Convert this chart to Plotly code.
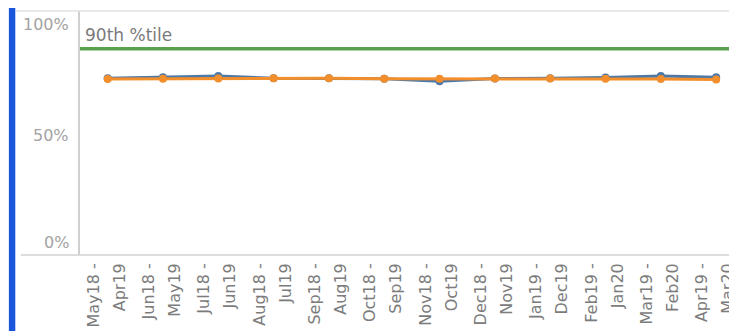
import plotly.graph_objects as go

categories_start = ["May18 -", "Jun18 -", "Jul18 -", "Aug18 -", "Sep18 -", "Oct18 -",
                    "Nov18 -", "Dec18 -", "Jan19 -", "Feb19 -", "Mar19 -", "Apr19 -"]
categories_end = ["Apr19", "May19", "Jun19", "Jul19", "Aug19", "Sep19",
                  "Oct19", "Nov19", "Dec19", "Jan20", "Feb20", "Mar20"]
blue_values = [0.724, 0.728, 0.734, 0.724, 0.724, 0.722, 0.712, 0.723, 0.724, 0.727, 0.734, 0.728]
orange_values = [0.721, 0.722, 0.723, 0.724, 0.724, 0.722, 0.722, 0.723, 0.723, 0.722, 0.721, 0.719]
percentile_90 = 0.845
percentile_label = "90th %tile"
y_ticks = [0, 0.5, 1.0]
y_tick_labels = ["0%", "50%", "100%"]

# page has an 8px body margin, so the figure is offset by 8px
OFF = 8
W, H = 737 - OFF, 331 - OFF
L, T = 80 - OFF, 11 - OFF
B = H - (255 - OFF)
pw = W - L
ph = H - T - B
band = 56.0

FONT = "DejaVu Sans"
xs = list(range(len(categories_start)))
xrange_ = [-0.5, -0.5 + pw / band]

fig = go.Figure()
fig.add_shape(type="line", xref="paper", yref="y", x0=0, x1=1, y0=percentile_90, y1=percentile_90,
              line=dict(color="#59a14f", width=3.5), layer="below")
fig.add_trace(go.Scatter(x=xs, y=blue_values, mode="lines+markers",
                         line=dict(color="#4e79a7", width=3), marker=dict(size=8, color="#4e79a7"),
                         showlegend=False))
fig.add_trace(go.Scatter(x=xs, y=orange_values, mode="lines+markers",
                         line=dict(color="#f28e2b", width=3), marker=dict(size=8, color="#f28e2b"),
                         showlegend=False))
# invisible trace to keep the second label axis alive
fig.add_trace(go.Scatter(x=[xs[0]], y=[None], xaxis="x2", yaxis="y", mode="markers",
                         showlegend=False, hoverinfo="skip"))

# left blue bar
fig.add_shape(type="rect", xref="paper", yref="paper",
              x0=(8 - 80) / pw, x1=(14.5 - 80) / pw, y0=-(B + 10) / ph, y1=(ph + T + 10) / ph,
              fillcolor="#1a56db", line=dict(width=0), layer="above")
# header separator line
fig.add_shape(type="line", xref="paper", yref="paper", x0=(15 - 80) / pw, x1=1, y0=1, y1=1,
              line=dict(color="#e2e2e2", width=1.5))
# bottom axis line
fig.add_shape(type="line", xref="paper", yref="paper", x0=(20 - 80) / pw, x1=1, y0=0, y1=0,
              line=dict(color="#d2d2d2", width=1.5))

# y tick labels as annotations
anchors = {0: "bottom", 0.5: "middle", 1.0: "top"}
shifts = {0: 1, 0.5: -2, 1.0: -2}
for v, t in zip(y_ticks, y_tick_labels):
    fig.add_annotation(x=(71 - 80) / pw, xref="paper", y=v, yref="y", text=t, showarrow=False,
                       xanchor="right", yanchor=anchors[v], yshift=shifts[v],
                       font=dict(family=FONT, size=16, color="#a3a3a3"))

fig.add_annotation(x=3 / pw, xref="paper", y=percentile_90, yref="y", text=percentile_label,
                   showarrow=False, xanchor="left", yanchor="bottom", yshift=2,
                   font=dict(family=FONT, size=17, color="#7a7a7a"))

tickfont = dict(family=FONT, size=16, color="#7c7c7c")
fig.update_layout(
    width=W, height=H,
    margin=dict(l=L, r=0, t=T, b=B, pad=0),
    paper_bgcolor="white", plot_bgcolor="white",
    showlegend=False,
    xaxis=dict(tickmode="array", tickvals=xs, ticktext=categories_start,
               range=xrange_, tickangle=-90, showgrid=False, zeroline=False,
               showline=False, ticks="", ticklabeloverflow="allow", ticklabelshift=-14,
               ticklabelstandoff=4, tickfont=tickfont, fixedrange=True),
    xaxis2=dict(tickmode="array", tickvals=xs, ticktext=categories_end, overlaying="x",
                anchor="y", side="bottom", range=xrange_, tickangle=-90, showgrid=False,
                zeroline=False, showline=False, ticks="", ticklabeloverflow="allow",
                ticklabelshift=12, ticklabelstandoff=4, tickfont=tickfont, fixedrange=True),
    yaxis=dict(range=[0, 1.0], showgrid=False, zeroline=False, showticklabels=False,
               showline=True, linecolor="#d0d0d0", linewidth=1.5, ticks="", fixedrange=True),
)

fig.write_html("out.html")
